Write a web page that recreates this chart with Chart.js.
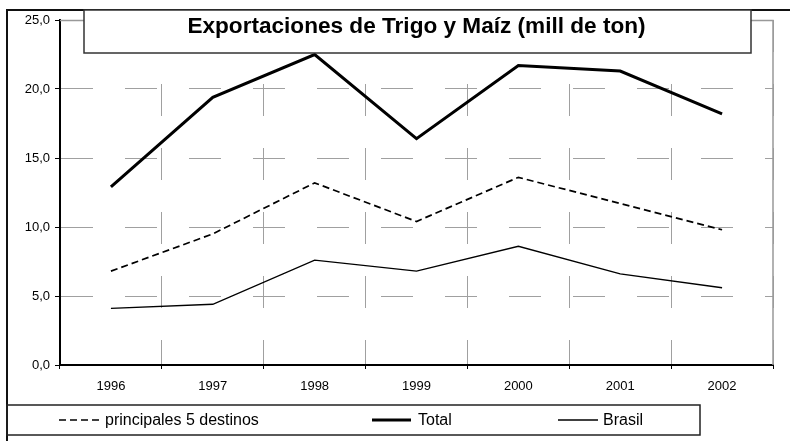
<!DOCTYPE html>
<html lang="es">
<head>
<meta charset="UTF-8" />
<title>Exportaciones de Trigo y Maíz</title>
<script src="https://cdn.jsdelivr.net/npm/chart.js"></script>
<style>
  body { margin: 0; background: #fff; }
  #wrap { width: 790px; height: 441px; }
</style>
</head>
<body>
<div id="wrap"><canvas id="chart" width="790" height="441"></canvas></div>

<script>
// años y series (millones de toneladas)
const years = ['1996', '1997', '1998', '1999', '2000', '2001', '2002'];
const principales = [6.8, 9.5, 13.2, 10.4, 13.6, 11.7, 9.8];
const total = [12.9, 19.4, 22.5, 16.4, 21.7, 21.3, 18.2];
const brasil = [4.1, 4.4, 7.6, 6.8, 8.6, 6.6, 5.6];
const yTickLabels = ['0,0', '5,0', '10,0', '15,0', '20,0', '25,0'];

const titleText = 'Exportaciones de Trigo y Maíz (mill de ton)';
const FONT = '"Liberation Sans", Arial, sans-serif';

// marcos, título y leyenda dibujados a mano sobre el canvas
const framePlugin = {
  id: 'frame',
  beforeDatasetsDraw(chart) {
    const {ctx, chartArea: a} = chart;
    ctx.save();
    ctx.strokeStyle = '#999';
    ctx.lineWidth = 1.5;
    ctx.beginPath();
    ctx.moveTo(a.left, a.top + 0.5);
    ctx.lineTo(a.right, a.top + 0.5);
    ctx.lineTo(a.right, a.bottom);
    ctx.stroke();
    ctx.restore();
  },
  afterDraw(chart) {
    const ctx = chart.ctx;
    ctx.save();

    // marco exterior
    ctx.strokeStyle = '#111';
    ctx.lineWidth = 2;
    ctx.beginPath();
    ctx.moveTo(790, 10);
    ctx.lineTo(7, 10);
    ctx.lineTo(7, 441);
    ctx.stroke();

    // caja del título
    ctx.fillStyle = '#fff';
    ctx.fillRect(84, 10, 667, 43);
    ctx.strokeStyle = '#333';
    ctx.lineWidth = 1.5;
    ctx.strokeRect(84, 10, 667, 43);
    ctx.fillStyle = '#000';
    ctx.font = 'bold 22.6px ' + FONT;
    ctx.textAlign = 'center';
    ctx.textBaseline = 'alphabetic';
    ctx.fillText(titleText, 416.5, 33);

    // caja de la leyenda
    ctx.strokeStyle = '#222';
    ctx.lineWidth = 1.5;
    ctx.strokeRect(7, 405, 693, 30);

    const items = [
      {ds: chart.data.datasets[0], x1: 59, x2: 99, tx: 105},
      {ds: chart.data.datasets[1], x1: 372, x2: 411, tx: 418},
      {ds: chart.data.datasets[2], x1: 558, x2: 598, tx: 603}
    ];
    ctx.font = '16px ' + FONT;
    ctx.textAlign = 'left';
    ctx.textBaseline = 'middle';
    items.forEach(it => {
      ctx.strokeStyle = it.ds.borderColor;
      ctx.lineWidth = it.ds.borderWidth;
      ctx.setLineDash(it.ds.borderDash || []);
      ctx.beginPath();
      ctx.moveTo(it.x1, 420);
      ctx.lineTo(it.x2, 420);
      ctx.stroke();
      ctx.setLineDash([]);
      ctx.fillStyle = '#000';
      ctx.fillText(it.ds.label, it.tx, 421);
    });
    ctx.restore();
  }
};

new Chart(document.getElementById('chart'), {
  type: 'line',
  data: {
    labels: years,
    datasets: [
      {
        label: 'principales 5 destinos',
        data: principales,
        borderColor: '#000',
        borderWidth: 1.7,
        borderDash: [7, 4],
        pointRadius: 0,
        tension: 0
      },
      {
        label: 'Total',
        data: total,
        borderColor: '#000',
        borderWidth: 3,
        pointRadius: 0,
        tension: 0
      },
      {
        label: 'Brasil',
        data: brasil,
        borderColor: '#000',
        borderWidth: 1.4,
        pointRadius: 0,
        tension: 0
      }
    ]
  },
  options: {
    responsive: false,
    animation: false,
    devicePixelRatio: 1,
    layout: { padding: { top: 20, right: 17, left: 0, bottom: 0 } },
    plugins: {
      legend: { display: false },
      title: { display: false },
      tooltip: { enabled: false }
    },
    scales: {
      x: {
        offset: true,
        afterFit(scale) { scale.height = 76; },
        grid: {
          offset: true,
          color: '#a0a0a0',
          lineWidth: 1,
          tickColor: '#000',
          tickLength: 4
        },
        border: { color: '#000', width: 2, dash: [32, 32] },
        ticks: {
          color: '#000',
          padding: 10,
          font: { family: FONT, size: 13 }
        }
      },
      y: {
        min: 0,
        max: 25,
        afterFit(scale) { scale.width = 60; },
        grid: {
          color: '#a0a0a0',
          lineWidth: 1,
          tickColor: '#000',
          tickLength: 5
        },
        border: { color: '#000', width: 2, dash: [32, 32] },
        ticks: {
          stepSize: 5,
          color: '#000',
          padding: 5,
          font: { family: FONT, size: 13 },
          callback: (v, i) => yTickLabels[i]
        }
      }
    }
  },
  plugins: [framePlugin]
});
</script>
</body>
</html>
